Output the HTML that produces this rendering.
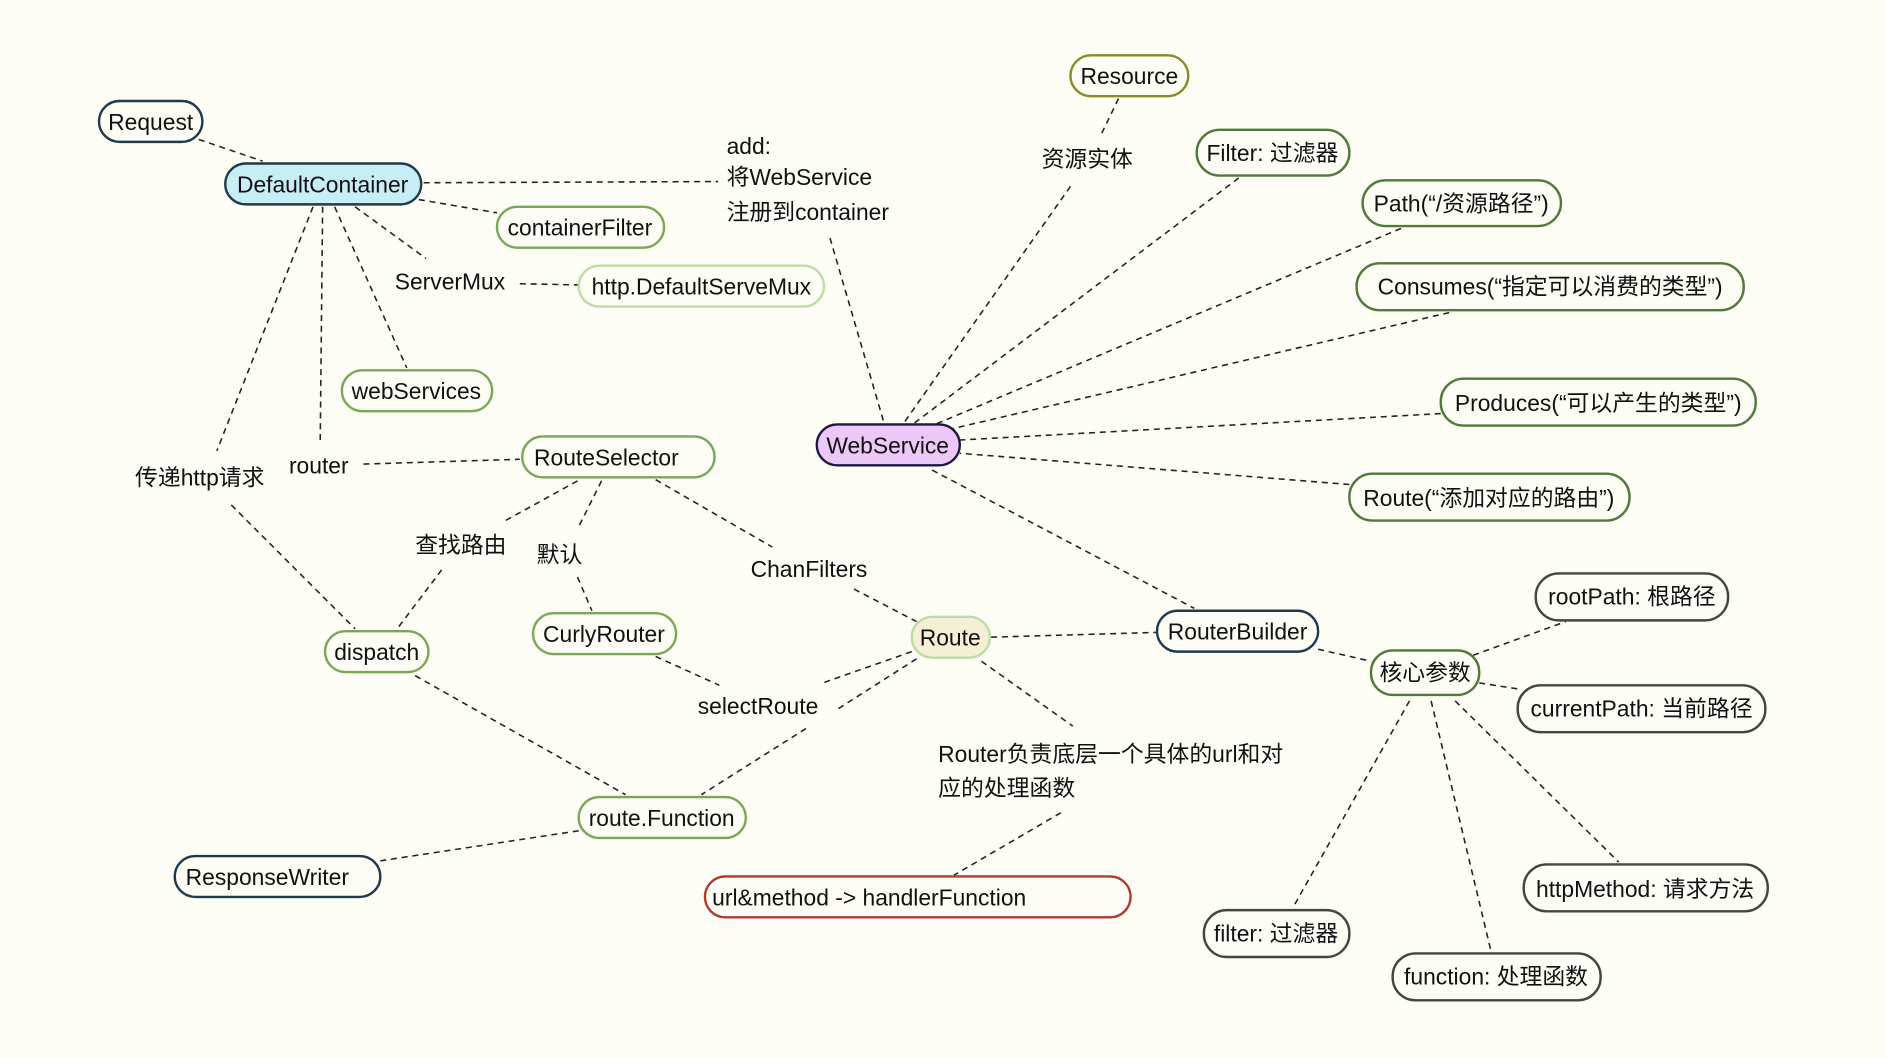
<!DOCTYPE html>
<html><head><meta charset="utf-8"><style>
html,body{margin:0;padding:0;background:#fdfcf5;}
svg{display:block}
text{font-family:"Liberation Sans","Noto Sans CJK SC",sans-serif;font-size:19px;fill:#111;}
.e{stroke:#222;stroke-width:1.3;stroke-dasharray:5,4;fill:none}
.n{stroke-width:2}
</style></head><body>
<svg width="1886" height="1058" viewBox="0 0 1568 880" xmlns="http://www.w3.org/2000/svg">
<rect width="1568" height="880" fill="#fdfcf5"/>
<g class="e">
<line x1="165" y1="116" x2="218" y2="134"/>
<line x1="352" y1="152" x2="597" y2="151"/>
<line x1="690" y1="198" x2="735" y2="352"/>
<line x1="348" y1="166" x2="413" y2="177"/>
<line x1="295" y1="172" x2="354" y2="215"/>
<line x1="432" y1="236" x2="481" y2="237"/>
<line x1="278" y1="172" x2="338" y2="306"/>
<line x1="268" y1="172" x2="266" y2="367"/>
<line x1="260" y1="172" x2="180" y2="375"/>
<line x1="192" y1="420" x2="295" y2="523"/>
<line x1="302" y1="386" x2="432" y2="382"/>
<line x1="480" y1="400" x2="420" y2="433"/>
<line x1="367" y1="474" x2="330" y2="523"/>
<line x1="500" y1="400" x2="480" y2="440"/>
<line x1="480" y1="480" x2="492" y2="508"/>
<line x1="545" y1="399" x2="642" y2="455"/>
<line x1="710" y1="490" x2="762" y2="517"/>
<line x1="545" y1="546" x2="598" y2="570"/>
<line x1="758" y1="542" x2="684" y2="568"/>
<line x1="762" y1="548" x2="696" y2="590"/>
<line x1="670" y1="606" x2="583" y2="661"/>
<line x1="345" y1="562" x2="520" y2="661"/>
<line x1="481" y1="691" x2="316" y2="716"/>
<line x1="816" y1="550" x2="892" y2="604"/>
<line x1="882" y1="676" x2="793" y2="728"/>
<line x1="824" y1="530" x2="962" y2="526"/>
<line x1="775" y1="391" x2="993" y2="506"/>
<line x1="890" y1="155" x2="752" y2="351"/>
<line x1="930" y1="82" x2="915" y2="113"/>
<line x1="1030" y1="148" x2="760" y2="352"/>
<line x1="1165" y1="190" x2="775" y2="354"/>
<line x1="1205" y1="260" x2="790" y2="357"/>
<line x1="1198" y1="344" x2="798" y2="366"/>
<line x1="1122" y1="403" x2="798" y2="377"/>
<line x1="1096" y1="540" x2="1140" y2="550"/>
<line x1="1225" y1="545" x2="1302" y2="517"/>
<line x1="1230" y1="568" x2="1262" y2="573"/>
<line x1="1210" y1="583" x2="1346" y2="717"/>
<line x1="1190" y1="583" x2="1240" y2="792"/>
<line x1="1172" y1="583" x2="1075" y2="755"/>
</g>
<g class="n">
<rect x="82" y="84" width="86" height="34" rx="17" fill="#fdfcf5" stroke="#1f3a4a"/>
<rect x="187" y="136" width="163" height="34" rx="17" fill="#c8eef5" stroke="#1f3a4a"/>
<rect x="413" y="172" width="139" height="34" rx="17" fill="#fdfcf5" stroke="#76a855"/>
<rect x="481" y="221" width="204" height="34" rx="17" fill="#fdfcf5" stroke="#bcdca6"/>
<rect x="284" y="308" width="125" height="34" rx="17" fill="#fdfcf5" stroke="#76a855"/>
<rect x="434" y="363" width="160" height="34" rx="17" fill="#fdfcf5" stroke="#76a855"/>
<rect x="443" y="510" width="119" height="34" rx="17" fill="#fdfcf5" stroke="#76a855"/>
<rect x="270" y="525" width="86" height="34" rx="17" fill="#fdfcf5" stroke="#76a855"/>
<rect x="481" y="663" width="139" height="34" rx="17" fill="#fdfcf5" stroke="#76a855"/>
<rect x="145" y="712" width="171" height="34" rx="17" fill="#fdfcf5" stroke="#1f3a4a"/>
<rect x="586" y="729" width="354" height="34" rx="17" fill="#fdfcf5" stroke="#b03a2a"/>
<rect x="758" y="513" width="65" height="34" rx="17" fill="#f5f0d5" stroke="#bcdca6"/>
<rect x="679" y="353" width="119" height="34" rx="17" fill="#ebc8f7" stroke="#1a1a40"/>
<rect x="890" y="46" width="98" height="34" rx="17" fill="#fdfcf5" stroke="#8a8a2a"/>
<rect x="995" y="108" width="127" height="38" rx="19" fill="#fdfcf5" stroke="#4f7a3a"/>
<rect x="1133" y="150" width="165" height="38" rx="19" fill="#fdfcf5" stroke="#4f7a3a"/>
<rect x="1128" y="219" width="322" height="39" rx="19" fill="#fdfcf5" stroke="#4f7a3a"/>
<rect x="1198" y="315" width="262" height="39" rx="19" fill="#fdfcf5" stroke="#4f7a3a"/>
<rect x="1122" y="394" width="233" height="39" rx="19" fill="#fdfcf5" stroke="#4f7a3a"/>
<rect x="962" y="508" width="134" height="34" rx="17" fill="#fdfcf5" stroke="#1f3a4a"/>
<rect x="1140" y="541" width="90" height="37" rx="18" fill="#fdfcf5" stroke="#4f7a3a"/>
<rect x="1277" y="477" width="160" height="39" rx="19" fill="#fdfcf5" stroke="#444"/>
<rect x="1262" y="570" width="206" height="39" rx="19" fill="#fdfcf5" stroke="#444"/>
<rect x="1267" y="719" width="203" height="39" rx="19" fill="#fdfcf5" stroke="#444"/>
<rect x="1158" y="793" width="173" height="39" rx="19" fill="#fdfcf5" stroke="#444"/>
<rect x="1001" y="757" width="121" height="39" rx="19" fill="#fdfcf5" stroke="#444"/>
</g>
<g>
<text x="125" y="108" text-anchor="middle">Request</text>
<text x="268" y="160" text-anchor="middle">DefaultContainer</text>
<text x="482" y="196" text-anchor="middle">containerFilter</text>
<text x="583" y="245" text-anchor="middle">http.DefaultServeMux</text>
<text x="346" y="332" text-anchor="middle">webServices</text>
<text x="504" y="387" text-anchor="middle">RouteSelector</text>
<text x="502" y="534" text-anchor="middle">CurlyRouter</text>
<text x="313" y="549" text-anchor="middle">dispatch</text>
<text x="550" y="687" text-anchor="middle">route.Function</text>
<text x="222" y="736" text-anchor="middle">ResponseWriter</text>
<text x="592" y="753">url&amp;method -&gt; handlerFunction</text>
<text x="790" y="537" text-anchor="middle">Route</text>
<text x="738" y="377" text-anchor="middle">WebService</text>
<text x="939" y="70" text-anchor="middle">Resource</text>
<text x="1058" y="134" text-anchor="middle">Filter: 过滤器</text>
<text x="1215" y="176" text-anchor="middle">Path(“/资源路径”)</text>
<text x="1289" y="245" text-anchor="middle">Consumes(“指定可以消费的类型”)</text>
<text x="1329" y="342" text-anchor="middle">Produces(“可以产生的类型”)</text>
<text x="1238" y="421" text-anchor="middle">Route(“添加对应的路由”)</text>
<text x="1029" y="532" text-anchor="middle">RouterBuilder</text>
<text x="1185" y="566" text-anchor="middle">核心参数</text>
<text x="1357" y="503" text-anchor="middle">rootPath: 根路径</text>
<text x="1365" y="596" text-anchor="middle">currentPath: 当前路径</text>
<text x="1368" y="746" text-anchor="middle">httpMethod: 请求方法</text>
<text x="1244" y="819" text-anchor="middle">function: 处理函数</text>
<text x="1061" y="783" text-anchor="middle">filter: 过滤器</text>
<text x="604" y="128">add:</text>
<text x="604" y="154">将WebService</text>
<text x="604" y="183">注册到container</text>
<text x="866" y="139">资源实体</text>
<text x="328" y="241">ServerMux</text>
<text x="240" y="394">router</text>
<text x="112" y="404">传递http请求</text>
<text x="345" y="460">查找路由</text>
<text x="446" y="468">默认</text>
<text x="624" y="480">ChanFilters</text>
<text x="580" y="594">selectRoute</text>
<text x="780" y="634">Router负责底层一个具体的url和对</text>
<text x="780" y="662">应的处理函数</text>
</g>
</svg>
</body></html>
